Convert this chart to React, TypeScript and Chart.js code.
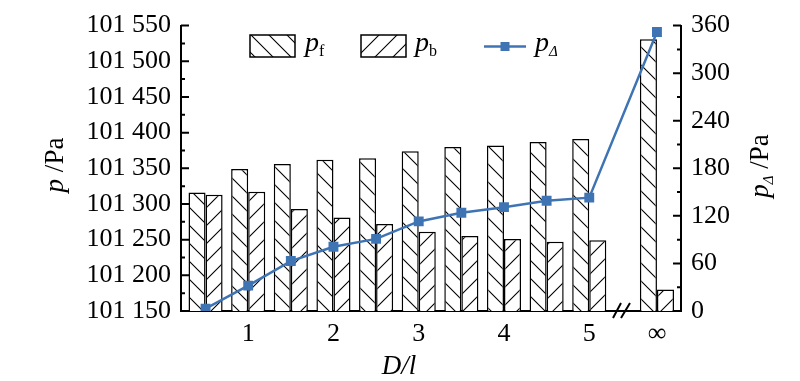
import React, { useEffect, useRef } from 'react';
import { Chart, registerables } from 'chart.js';

Chart.register(...registerables);

// ---- data ----
const categories = ['0.5', '1', '1.5', '2', '2.5', '3', '3.5', '4', '4.5', '5', '∞'];
const xPositions = [0.5, 1, 1.5, 2, 2.5, 3, 3.5, 4, 4.5, 5, 5.794];
const pF = [101316, 101349, 101356, 101362, 101364, 101374, 101380, 101382, 101387, 101391, 101531];
const pB = [101313, 101317, 101293, 101281, 101272, 101261, 101255, 101251, 101247, 101249, 101180];
const pDelta = [3, 32, 63, 81, 91, 113, 124, 131, 139, 143, 352];
const xTickValues = [1, 2, 3, 4, 5, 5.794];
const xTickLabels = ['1', '2', '3', '4', '5', '∞'];
const leftMin = 101150;
const leftMax = 101550;
const leftStep = 50;
const rightMin = 0;
const rightMax = 360;
const rightStep = 60;

const SERIF = '"Liberation Serif", "Times New Roman", serif';
const BLUE = '#3f74b4';

function makeHatch(forward: boolean): CanvasPattern | string {
  const s = 18;
  const c = document.createElement('canvas');
  c.width = s;
  c.height = s;
  const g = c.getContext('2d');
  if (!g) return '#fff';
  g.fillStyle = '#fff';
  g.fillRect(0, 0, s, s);
  g.strokeStyle = '#000';
  g.lineWidth = 1.1;
  g.beginPath();
  if (!forward) {
    g.moveTo(-1, -1); g.lineTo(s + 1, s + 1);
    g.moveTo(s - 2, -2); g.lineTo(s + 2, 2);
    g.moveTo(-2, s - 2); g.lineTo(2, s + 2);
  } else {
    g.moveTo(-1, s + 1); g.lineTo(s + 1, -1);
    g.moveTo(-2, 2); g.lineTo(2, -2);
    g.moveTo(s - 2, s + 2); g.lineTo(s + 2, s - 2);
  }
  g.stroke();
  const p = g.createPattern(c, 'repeat');
  return p || '#fff';
}

const decorPlugin = {
  id: 'decor',
  afterDraw(chart: any) {
    const ctx: CanvasRenderingContext2D = chart.ctx;
    const ca = chart.chartArea;
    const yL = chart.scales.yL;
    const yR = chart.scales.yR;
    ctx.save();
    ctx.strokeStyle = '#000';
    ctx.lineWidth = 2;
    // inward ticks
    ctx.beginPath();
    for (let v = leftMin; v <= leftMax + 0.001; v += leftStep / 2) {
      const y = yL.getPixelForValue(v);
      const major = Math.abs(((v - leftMin) / leftStep) - Math.round((v - leftMin) / leftStep)) < 0.01;
      ctx.moveTo(ca.left, y);
      ctx.lineTo(ca.left + (major ? 8 : 4), y);
    }
    for (let v = rightMin; v <= rightMax + 0.001; v += rightStep / 2) {
      const y = yR.getPixelForValue(v);
      const major = Math.abs(((v - rightMin) / rightStep) - Math.round((v - rightMin) / rightStep)) < 0.01;
      ctx.moveTo(ca.right, y);
      ctx.lineTo(ca.right - (major ? 8 : 4), y);
    }
    ctx.stroke();

    // axis break marks
    const bx = 613;
    const by = ca.bottom;
    ctx.lineWidth = 2;
    ctx.beginPath();
    ctx.moveTo(bx, by + 7); ctx.lineTo(bx + 8, by - 8);
    ctx.moveTo(bx + 8, by + 7); ctx.lineTo(bx + 17, by - 8);
    ctx.stroke();

    ctx.fillStyle = '#000';
    ctx.textBaseline = 'alphabetic';

    const drawRuns = (runs: { t: string; font: string; dy?: number }[], x: number, y: number, center: boolean) => {
      let total = 0;
      for (const r of runs) { ctx.font = r.font; total += ctx.measureText(r.t).width; }
      let cx = center ? x - total / 2 : x;
      for (const r of runs) {
        ctx.font = r.font;
        ctx.fillText(r.t, cx, y + (r.dy || 0));
        cx += ctx.measureText(r.t).width;
      }
    };

    // left title
    ctx.save();
    ctx.translate(63, 165);
    ctx.rotate(-Math.PI / 2);
    drawRuns([
      { t: 'p', font: `italic 27px ${SERIF}` },
      { t: ' /Pa', font: `27px ${SERIF}` },
    ], 0, 0, true);
    ctx.restore();

    // right title
    ctx.save();
    ctx.translate(768, 166);
    ctx.rotate(-Math.PI / 2);
    drawRuns([
      { t: 'p', font: `italic 27px ${SERIF}` },
      { t: 'Δ', font: `italic 15px ${SERIF}`, dy: 5 },
      { t: ' /Pa', font: `27px ${SERIF}` },
    ], 0, 0, true);
    ctx.restore();

    // x title
    drawRuns([{ t: 'D/l', font: `italic 27px ${SERIF}` }], 399, 374, true);

    // legend
    const patF = chart.data.datasets[1].backgroundColor;
    const patB = chart.data.datasets[2].backgroundColor;
    ctx.lineWidth = 1.5;
    ctx.fillStyle = patF;
    ctx.fillRect(250, 35, 45, 22);
    ctx.strokeRect(250, 35, 45, 22);
    ctx.fillStyle = patB;
    ctx.fillRect(361, 35, 45, 22);
    ctx.strokeRect(361, 35, 45, 22);
    ctx.fillStyle = '#000';
    drawRuns([
      { t: 'p', font: `italic 28px ${SERIF}` },
      { t: 'f', font: `16px ${SERIF}`, dy: 5 },
    ], 305, 51, false);
    drawRuns([
      { t: 'p', font: `italic 28px ${SERIF}` },
      { t: 'b', font: `16px ${SERIF}`, dy: 5 },
    ], 415, 51, false);
    ctx.strokeStyle = BLUE;
    ctx.lineWidth = 2.5;
    ctx.beginPath();
    ctx.moveTo(484, 46.5);
    ctx.lineTo(526, 46.5);
    ctx.stroke();
    ctx.fillStyle = BLUE;
    ctx.fillRect(500.5, 42, 9, 9);
    ctx.fillStyle = '#000';
    drawRuns([
      { t: 'p', font: `italic 28px ${SERIF}` },
      { t: 'Δ', font: `italic 15px ${SERIF}`, dy: 5 },
    ], 535, 51, false);
    ctx.restore();
  },
};

export default function App() {
  const ref = useRef<HTMLCanvasElement | null>(null);
  useEffect(() => {
    if (!ref.current) return;
    const hatchF = makeHatch(false);
    const hatchB = makeHatch(true);
    const chart = new Chart(ref.current, {
      type: 'bar',
      data: {
        labels: categories,
        datasets: [
          {
            type: 'line',
            label: 'pΔ',
            data: xPositions.map((x, i) => ({ x, y: pDelta[i] })),
            yAxisID: 'yR',
            xAxisID: 'x',
            borderColor: BLUE,
            backgroundColor: BLUE,
            borderWidth: 2.5,
            pointStyle: 'rect',
            pointRadius: 7,
            pointBorderWidth: 0,
            tension: 0,
            order: 0,
          } as any,
          {
            type: 'bar',
            label: 'pf',
            data: xPositions.map((x, i) => ({ x, y: pF[i] })),
            yAxisID: 'yL',
            xAxisID: 'x',
            backgroundColor: hatchF as any,
            borderColor: '#000',
            borderWidth: 1.5,
            categoryPercentage: 0.8,
            barPercentage: 1,
            order: 1,
          } as any,
          {
            type: 'bar',
            label: 'pb',
            data: xPositions.map((x, i) => ({ x, y: pB[i] })),
            yAxisID: 'yL',
            xAxisID: 'x',
            backgroundColor: hatchB as any,
            borderColor: '#000',
            borderWidth: 1.5,
            categoryPercentage: 0.8,
            barPercentage: 1,
            order: 1,
          } as any,
        ],
      },
      options: {
        animation: false,
        responsive: false,
        maintainAspectRatio: false,
        layout: { padding: { top: 21, left: 0, right: 0, bottom: 0 } },
        plugins: { legend: { display: false }, tooltip: { enabled: false } },
        scales: {
          x: {
            type: 'linear',
            offset: false,
            min: 0.212,
            max: 6.076,
            grid: { display: false, drawTicks: false, offset: false },
            border: { display: true, color: '#000', width: 2 },
            afterBuildTicks: (s: any) => {
              s.ticks = xTickValues.map((v) => ({ value: v }));
            },
            ticks: {
              autoSkip: false,
              maxRotation: 0,
              padding: 8,
              color: '#000',
              font: { family: SERIF, size: 26 },
              callback: (_v: any, i: number) => xTickLabels[i],
            },
            afterFit: (s: any) => { s.height = 70; },
          },
          yL: {
            type: 'linear',
            position: 'left',
            min: leftMin,
            max: leftMax,
            grid: { display: false, drawTicks: false },
            border: { display: true, color: '#000', width: 2 },
            ticks: {
              stepSize: leftStep,
              padding: 10,
              color: '#000',
              font: { family: SERIF, size: 26 },
              callback: (v: any) => {
                const n = Number(v);
                const hi = Math.floor(n / 1000);
                const lo = String(n % 1000).padStart(3, '0');
                return `${hi} ${lo}`;
              },
            },
            afterFit: (s: any) => { s.width = 181; },
          },
          yR: {
            type: 'linear',
            position: 'right',
            min: rightMin,
            max: rightMax,
            grid: { display: false, drawTicks: false },
            border: { display: true, color: '#000', width: 2 },
            ticks: {
              stepSize: rightStep,
              padding: 10,
              color: '#000',
              font: { family: SERIF, size: 26 },
            },
            afterFit: (s: any) => { s.width = 119; },
          },
        },
      } as any,
      plugins: [decorPlugin],
    });
    return () => chart.destroy();
  }, []);
  return (
    <div style={{ position: 'fixed', left: 0, top: 0, width: 800, height: 381, background: '#fff' }}>
      <canvas ref={ref} width={800} height={381} style={{ width: 800, height: 381 }} />
    </div>
  );
}
